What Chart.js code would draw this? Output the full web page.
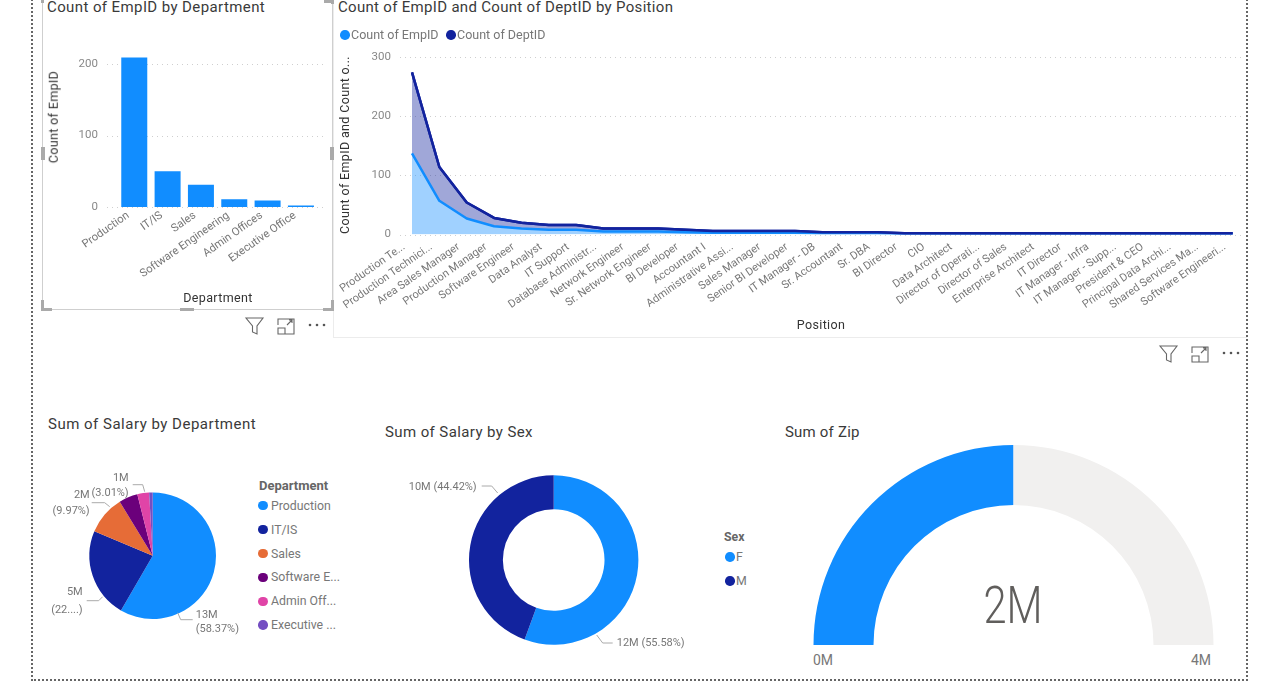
<!DOCTYPE html>
<html>
<head>
<meta charset="utf-8">
<title>HR dashboard</title>
<script src="https://cdn.jsdelivr.net/npm/chart.js@4/dist/chart.umd.min.js"></script>
<style>
  html, body { margin: 0; padding: 0; background: #fff; }
  #page { position: relative; width: 1280px; height: 685px; overflow: hidden; font-family: Roboto, sans-serif; }
  canvas { position: absolute; }
  .txt { position: absolute; white-space: nowrap; line-height: 1; }
  .title { font-size: 15px; color: #3a3a3a; letter-spacing: 0.4px; }
  .axis-title { font-size: 12.5px; color: #333; letter-spacing: 0.35px; }
  .legend { font-size: 12.3px; color: #777; }
  .dot { position: absolute; width: 9.5px; height: 9.5px; border-radius: 50%; }
  .frame { position: absolute; box-sizing: border-box; }
  .handle { position: absolute; background: #aaa; }
  svg.icon { position: absolute; overflow: visible; }
</style>
</head>
<body>
<div id="page"></div>
<script>
// chart data
const departments = ["Production", "IT/IS", "Sales", "Software Engineering", "Admin Offices", "Executive Office"];
const empByDepartment = [209, 50, 31, 11, 9, 2];

const positions = ["Production Te...", "Production Technici...", "Area Sales Manager", "Production Manager",
  "Software Engineer", "Data Analyst", "IT Support", "Database Administr...", "Network Engineer",
  "Sr. Network Engineer", "BI Developer", "Accountant I", "Administrative Assi...", "Sales Manager",
  "Senior BI Developer", "IT Manager - DB", "Sr. Accountant", "Sr. DBA", "BI Director", "CIO", "Data Architect",
  "Director of Operati...", "Director of Sales", "Enterprise Architect", "IT Director", "IT Manager - Infra",
  "IT Manager - Supp...", "President & CEO", "Principal Data Archi...", "Shared Services Ma...", "Software Engineeri..."];
const empByPosition = [137, 57, 27, 14, 10, 8, 8, 5, 5, 5, 4, 3, 3, 3, 3, 2, 2, 2, 1, 1, 1, 1, 1, 1, 1, 1, 1, 1, 1, 1, 1];
const deptByPosition = [137, 57, 27, 14, 10, 8, 8, 5, 5, 5, 4, 3, 3, 3, 3, 2, 2, 2, 1, 1, 1, 1, 1, 1, 1, 1, 1, 1, 1, 1, 1];

const pieLegend = ["Production", "IT/IS", "Sales", "Software E...", "Admin Off...", "Executive ..."];
const salaryShareByDept = [58.37, 22.95, 9.97, 4.8, 3.01, 0.9];

const sexes = ["F", "M"];
const salaryShareBySex = [55.58, 44.42];

const zipValue = [2, 2]; // 2M out of 4M

const BLUE = "#118DFF", NAVY = "#12239E";
const pieColors = [BLUE, NAVY, "#E66C37", "#6B007B", "#E044A7", "#744EC2"];
const page = document.getElementById("page");

function addText(text, x, y, cls, extra) {
  const el = document.createElement("div");
  el.className = "txt " + cls;
  el.textContent = text;
  el.style.left = x + "px";
  el.style.top = y + "px";
  el.style.transform = "translateY(-50%)";
  if (extra) Object.assign(el.style, extra);
  page.appendChild(el);
  return el;
}

function addDot(x, y, color) {
  const el = document.createElement("div");
  el.className = "dot";
  el.style.left = (x - 4.75) + "px";
  el.style.top = (y - 4.75) + "px";
  el.style.background = color;
  page.appendChild(el);
}

function addCanvas(x, y, w, h) {
  const c = document.createElement("canvas");
  c.width = w;
  c.height = h;
  c.style.left = x + "px";
  c.style.top = y + "px";
  c.style.width = w + "px";
  c.style.height = h + "px";
  page.appendChild(c);
  return c;
}

// dotted value gridlines that run a bit past the plot, like Power BI
const extendedGrid = {
  id: "extendedGrid",
  beforeDatasetsDraw(chart, args, opts) {
    const { ctx, chartArea, scales } = chart;
    ctx.save();
    ctx.strokeStyle = "#cfcfcf";
    ctx.lineWidth = 1;
    ctx.setLineDash([1, 4]);
    scales.y.ticks.forEach(t => {
      const y = Math.round(scales.y.getPixelForValue(t.value)) + 0.5;
      ctx.beginPath();
      ctx.moveTo(chartArea.left - opts.left, y);
      ctx.lineTo(chartArea.right + opts.right, y);
      ctx.stroke();
    });
    ctx.restore();
  }
};

// second series stacks on top but its line should also be painted last
const lastLineOnTop = {
  id: "lastLineOnTop",
  afterDatasetsDraw(chart) {
    const meta = chart.getDatasetMeta(chart.data.datasets.length - 1);
    meta.dataset.draw(chart.ctx, chart.chartArea);
  }
};

// leader lines and labels for the pie and donut, relative to the slices' centre
const callouts = {
  id: "callouts",
  afterDatasetsDraw(chart, args, opts) {
    const { ctx } = chart;
    const arc = chart.getDatasetMeta(0).data[0];
    const cx = arc.x, cy = arc.y;
    ctx.save();
    ctx.font = "11px Roboto";
    ctx.textBaseline = "middle";
    opts.items.forEach(item => {
      ctx.strokeStyle = "#aaa";
      ctx.lineWidth = 1;
      ctx.beginPath();
      item.line.forEach((p, i) => {
        if (i === 0) ctx.moveTo(cx + p[0], cy + p[1]);
        else ctx.lineTo(cx + p[0], cy + p[1]);
      });
      ctx.stroke();
      ctx.fillStyle = "#777";
      ctx.textAlign = item.align;
      item.text.forEach((t, i) => ctx.fillText(t, cx + item.x, cy + item.y[i]));
    });
    ctx.restore();
  }
};

const valueFont = { family: "Roboto", size: 11.5 };
const axisWidth = w => s => { s.width = w; };
const axisHeight = h => s => { s.height = h; };

// Count of EmpID by Department
new Chart(addCanvas(42, 20, 290, 290), {
  type: "bar",
  data: {
    labels: departments,
    datasets: [{ data: empByDepartment, backgroundColor: BLUE, barPercentage: 0.78, categoryPercentage: 1 }]
  },
  plugins: [extendedGrid],
  options: {
    responsive: false,
    animation: false,
    layout: { padding: { left: 0, right: 14.4, top: 29.7, bottom: 0 } },
    plugins: { legend: { display: false }, tooltip: { enabled: false }, extendedGrid: { left: 10.6, right: 9.4 } },
    scales: {
      x: {
        afterFit: axisHeight(103),
        grid: { display: false },
        border: { display: false },
        ticks: { font: { family: "Roboto", size: 11.2 }, color: "#777", minRotation: 35, maxRotation: 35, autoSkip: false, padding: -6, labelOffset: -6 }
      },
      y: {
        min: 0, max: 220,
        afterFit: axisWidth(75.6),
        grid: { display: false },
        border: { display: false },
        ticks: { font: valueFont, color: "#888", stepSize: 100, includeBounds: false, padding: 11.6 }
      }
    }
  }
});

// Count of EmpID and Count of DeptID by Position
new Chart(addCanvas(334, 37, 912, 299), {
  type: "line",
  data: {
    labels: positions,
    datasets: [
      { label: "Count of EmpID", data: empByPosition, borderColor: BLUE, backgroundColor: "rgba(17,141,255,0.4)", fill: "origin" },
      { label: "Count of DeptID", data: deptByPosition, borderColor: NAVY, backgroundColor: "rgba(18,35,158,0.4)", fill: "-1" }
    ]
  },
  plugins: [extendedGrid, lastLineOnTop],
  options: {
    responsive: false,
    animation: false,
    layout: { padding: { left: 0, right: 13.3, top: 3.9, bottom: 0 } },
    elements: { point: { radius: 0 }, line: { borderWidth: 2.5, tension: 0, borderJoinStyle: "round" } },
    plugins: { legend: { display: false }, tooltip: { enabled: false }, extendedGrid: { left: 12, right: 11 } },
    scales: {
      x: {
        afterFit: axisHeight(101.5),
        grid: { display: false },
        border: { display: false },
        ticks: { font: { family: "Roboto", size: 11 }, color: "#777", minRotation: 35, maxRotation: 35, autoSkip: false, padding: -2, labelOffset: -8 }
      },
      y: {
        stacked: true,
        min: 0, max: 300,
        afterFit: axisWidth(78),
        grid: { display: false },
        border: { display: false },
        ticks: { font: valueFont, color: "#888", stepSize: 100, padding: 13 }
      }
    }
  }
});

// Sum of Salary by Department
new Chart(addCanvas(40, 470, 210, 172), {
  type: "pie",
  data: { labels: pieLegend, datasets: [{ data: salaryShareByDept, backgroundColor: pieColors, borderWidth: 0 }] },
  plugins: [callouts],
  options: {
    responsive: false,
    animation: false,
    layout: { padding: { left: 49.4, right: 34, top: 22.4, bottom: 23 } },
    plugins: {
      legend: { display: false }, tooltip: { enabled: false },
      callouts: {
        items: [
          { line: [[25, 57], [28, 64], [40, 64]], text: ["13M", "(58.37%)"], align: "left", x: 43, y: [60, 74] },
          { line: [[-50, 41], [-54, 45], [-66, 45]], text: ["5M", "(22....)"], align: "right", x: -70, y: [37, 55] },
          { line: [[-43, -49], [-48, -53], [-61, -53]], text: ["2M", "(9.97%)"], align: "right", x: -63, y: [-60, -44] },
          { line: [[-8, -64], [-10, -71], [-20, -71]], text: ["1M", "(3.01%)"], align: "right", x: -24, y: [-77, -62] }
        ]
      }
    }
  }
});

// Sum of Salary by Sex
new Chart(addCanvas(400, 470, 300, 180), {
  type: "doughnut",
  data: { labels: sexes, datasets: [{ data: salaryShareBySex, backgroundColor: [BLUE, NAVY], borderWidth: 0 }] },
  plugins: [callouts],
  options: {
    responsive: false,
    animation: false,
    cutout: "60%",
    layout: { padding: { left: 69, right: 61.6, top: 5.3, bottom: 5.3 } },
    plugins: {
      legend: { display: false }, tooltip: { enabled: false },
      callouts: {
        items: [
          { line: [[-56, -67], [-62, -74], [-72, -74]], text: ["10M (44.42%)"], align: "right", x: -77, y: [-73] },
          { line: [[43, 75], [49, 83], [59, 83]], text: ["12M (55.58%)"], align: "left", x: 63, y: [83] }
        ]
      }
    }
  }
});

// Sum of Zip gauge
new Chart(addCanvas(813, 445, 401, 200), {
  type: "doughnut",
  data: { labels: ["Sum of Zip", "Remaining"], datasets: [{ data: zipValue, backgroundColor: [BLUE, "#F1F0EF"], borderWidth: 0 }] },
  options: {
    responsive: false,
    animation: false,
    rotation: -90,
    circumference: 180,
    cutout: "70%",
    plugins: { legend: { display: false }, tooltip: { enabled: false } }
  }
});

// titles
addText("Count of EmpID by Department", 47, 7, "title");
addText("Count of EmpID and Count of DeptID by Position", 338, 7, "title", { letterSpacing: "0.31px" });
addText("Sum of Salary by Department", 48, 424, "title", { letterSpacing: "0.5px" });
addText("Sum of Salary by Sex", 385, 432, "title");
addText("Sum of Zip", 785, 432, "title", { letterSpacing: "0.2px" });

// axis titles
addText("Department", 218, 298, "axis-title", { transform: "translate(-50%,-50%)" });
addText("Position", 821, 325, "axis-title", { transform: "translate(-50%,-50%)" });
addText("Count of EmpID", 54, 117, "axis-title", { transform: "translate(-50%,-50%) rotate(-90deg)" });
addText("Count of EmpID and Count o...", 345, 145, "axis-title", { transform: "translate(-50%,-50%) rotate(-90deg)" });

// legends
addDot(345, 35, BLUE);
addText("Count of EmpID", 351, 35, "legend", { fontSize: "12.5px" });
addDot(451, 35, NAVY);
addText("Count of DeptID", 457, 35, "legend", { fontSize: "12.5px" });

addText("Department", 259, 485, "legend", { fontSize: "13px", fontWeight: "700", color: "#666" });
pieLegend.forEach((name, i) => {
  const y = 505.7 + i * 23.9;
  addDot(263, y, pieColors[i]);
  addText(name, 271, y, "legend");
});

addText("Sex", 724, 537, "legend", { fontWeight: "700", color: "#666" });
sexes.forEach((name, i) => {
  const y = 557 + i * 24;
  addDot(730, y, [BLUE, NAVY][i]);
  addText(name, 736, y, "legend");
});

// gauge labels
addText("2M", 1013, 606, "", { fontSize: "52px", fontWeight: "300", color: "#605E5C", transform: "translate(-50%,-50%) scaleX(0.8)" });
addText("0M", 813, 660, "legend", { fontSize: "14px" });
addText("4M", 1191, 660, "legend", { fontSize: "14px" });

// page and visual frames
function addFrame(x, y, w, h, css) {
  const f = document.createElement("div");
  f.className = "frame";
  f.style.left = x + "px";
  f.style.top = y + "px";
  f.style.width = w + "px";
  f.style.height = h + "px";
  Object.assign(f.style, css);
  page.appendChild(f);
}
addFrame(31, -10, 1217, 691, { border: "2px dotted #666" });
addFrame(42, -5, 291, 315, { border: "1px solid #cfcfcf" });
addFrame(333, -5, 914, 343, { borderBottom: "1px solid #ececec", borderLeft: "1px solid #ececec" });

function addHandle(x, y, w, h) {
  const b = document.createElement("div");
  b.className = "handle";
  b.style.left = x + "px";
  b.style.top = y + "px";
  b.style.width = w + "px";
  b.style.height = h + "px";
  page.appendChild(b);
}
[[41, 0, 3, 3], [41, 300, 3, 11], [41, 308, 11, 3], [323, 308, 11, 3], [331, 300, 3, 11], [324, 0, 10, 3], [331, 0, 3, 4],
 [41, 147, 4, 13], [330, 147, 4, 13], [180, 308, 14, 3]].forEach(r => addHandle(r[0], r[1], r[2], r[3]));

// visual header icons
function addIcons(x, y) {
  const svg = document.createElementNS("http://www.w3.org/2000/svg", "svg");
  svg.setAttribute("class", "icon");
  svg.setAttribute("width", "90");
  svg.setAttribute("height", "20");
  svg.style.left = x + "px";
  svg.style.top = y + "px";
  svg.innerHTML =
    '<path d="M1 1 H18 L12 9 V17 L7.5 15 V9 Z" fill="none" stroke="#666" stroke-width="1.1"/>' +
    '<path d="M33 8 V2 H49 V17 H33 V11 H40 V17 M42 8 L47 3 M44 3 H47 V6" fill="none" stroke="#666" stroke-width="1.1"/>' +
    '<circle cx="65" cy="8" r="1.3" fill="#555"/><circle cx="72" cy="8" r="1.3" fill="#555"/><circle cx="79" cy="8" r="1.3" fill="#555"/>';
  page.appendChild(svg);
}
addIcons(245, 317);
addIcons(1159, 345);
</script>
</body>
</html>
